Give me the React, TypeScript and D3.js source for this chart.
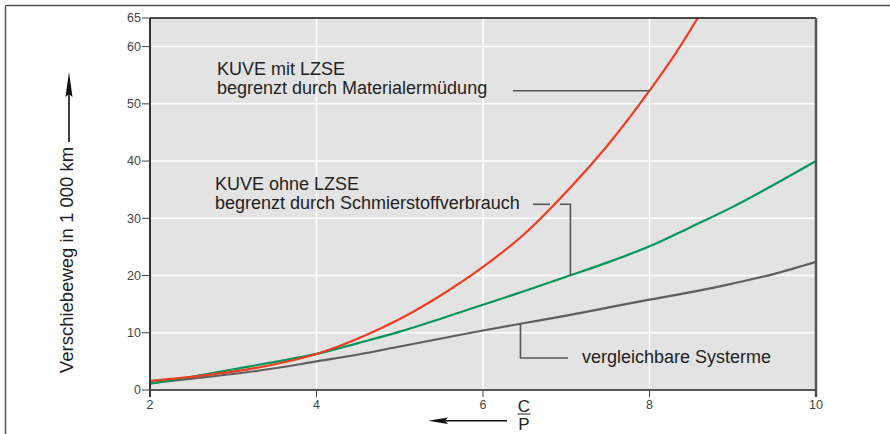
import React from "react";
import * as d3 from "d3";

const xVals = [2, 2.5, 3, 3.5, 4, 4.5, 5, 5.5, 6, 6.5, 7, 7.5, 8, 8.5, 9, 9.5, 10];
const redX = [2, 2.5, 3, 3.5, 4, 4.5, 5, 5.5, 6, 6.5, 7, 7.5, 8, 8.3, 8.6];
const redY = [1.6, 2.3, 3.2, 4.5, 6.3, 9.0, 12.4, 16.6, 21.5, 27.3, 34.6, 42.8, 52.3, 58.5, 65.5];
const greenY = [1.1, 2.3, 3.6, 4.9, 6.3, 8.2, 10.2, 12.5, 14.9, 17.3, 19.8, 22.3, 25.1, 28.5, 32.0, 35.9, 40.0];
const grayY = [1.2, 2.0, 2.8, 3.8, 5.0, 6.2, 7.6, 9.0, 10.4, 11.7, 13.0, 14.4, 15.8, 17.1, 18.6, 20.3, 22.4];
const yTicks = [0, 10, 20, 30, 40, 50, 60, 65];
const yGrid = [10, 20, 30, 40, 50, 60];
const xTicks = [2, 4, 6, 8, 10];
const xGrid = [4, 6, 8];

const W = 890, H = 434;
const L = 150, R = 816, T = 18, B = 390;

export default function App() {
  const x = d3.scaleLinear().domain([2, 10]).range([L, R]);
  const y = d3.scaleLinear().domain([0, 65]).range([B, T]);
  const line = d3.line<[number, number]>().x(d => x(d[0])).y(d => y(d[1])).curve(d3.curveMonotoneX);
  const red = line(redX.map((v, i) => [v, redY[i]]) as [number, number][]) || "";
  const green = line(xVals.map((v, i) => [v, greenY[i]]) as [number, number][]) || "";
  const gray = line(xVals.map((v, i) => [v, grayY[i]]) as [number, number][]) || "";
  const font = "'Liberation Sans', Arial, sans-serif";
  const txt = "#222";

  const redAnchor = [x(8), y(redY[redX.indexOf(8)])];
  const greenAnchorX = x(7.05);
  const greenAnchorY = y(19.95);
  const grayAnchorX = x(6.45);
  const grayAnchorY = y(11.6);

  return (
    <svg width={W} height={H} style={{ position: "absolute", left: 0, top: 0, background: "#fff" }} fontFamily={font}>
      <defs>
        <clipPath id="plot"><rect x={L} y={T} width={R - L} height={B - T} /></clipPath>
      </defs>
      <line x1={5.5} y1={5.5} x2={W} y2={5.5} stroke="#555" strokeWidth={1.5} />
      <line x1={5.5} y1={5.5} x2={5.5} y2={H} stroke="#555" strokeWidth={1.5} />

      <rect x={L} y={T} width={R - L} height={B - T} fill="#e3e3e3" />
      {yGrid.map(v => (
        <line key={"gy" + v} x1={L} x2={R} y1={y(v)} y2={y(v)} stroke="#fff" strokeWidth={1.5} />
      ))}
      {xGrid.map(v => (
        <line key={"gx" + v} x1={x(v)} x2={x(v)} y1={T} y2={B} stroke="#fff" strokeWidth={1.5} />
      ))}

      <g clipPath="url(#plot)" fill="none" strokeWidth={2.2} strokeLinejoin="round">
        <path d={gray} stroke="#5f5f5f" />
        <path d={green} stroke="#00965a" />
        <path d={red} stroke="#f03c22" />
      </g>

      <line x1={L} x2={R} y1={T} y2={T} stroke="#111" strokeWidth={1.5} />
      <line x1={R} x2={R} y1={T} y2={B + 7} stroke="#555" strokeWidth={2.5} />
      <line x1={L} x2={R} y1={B} y2={B} stroke="#555" strokeWidth={2} />
      <line x1={L} x2={L} y1={T} y2={B + 7} stroke="#333" strokeWidth={2} />

      {yTicks.map(v => (
        <g key={"yt" + v}>
          <line x1={L - 8} x2={L} y1={y(v)} y2={y(v)} stroke="#444" strokeWidth={1} />
          <text x={L - 9} y={y(v)} dy="0.35em" textAnchor="end" fontSize={12.5} fill="#444">{v}</text>
        </g>
      ))}
      {xTicks.map(v => (
        <g key={"xt" + v}>
          <line x1={x(v)} x2={x(v)} y1={B} y2={B + 7} stroke="#444" strokeWidth={1} />
          <text x={x(v)} y={B + 19} textAnchor="middle" fontSize={12.5} fill="#444">{v}</text>
        </g>
      ))}

      <text transform={`translate(73,260) rotate(-90)`} textAnchor="middle" fontSize={18.5} fill={txt}>Verschiebeweg in 1 000 km</text>
      <line x1={69} x2={69} y1={142} y2={92} stroke="#111" strokeWidth={1.6} />
      <path d="M69,72 L72.5,97 L69,94 L65.5,97 Z" fill="#111" />

      <text x={524} y={412} textAnchor="middle" fontSize={17} fill={txt}>C</text>
      <line x1={517.5} x2={530.5} y1={414} y2={414} stroke={txt} strokeWidth={1} />
      <text x={524} y={430} textAnchor="middle" fontSize={17} fill={txt}>P</text>
      <line x1={507} x2={445} y1={420.7} y2={420.7} stroke="#111" strokeWidth={1.6} />
      <path d="M428,420.7 L448,417.5 L445,420.7 L448,424 Z" fill="#111" />

      <text x={217} y={75} fontSize={18} fill={txt}>KUVE mit LZSE</text>
      <text x={217} y={93.5} fontSize={18} fill={txt}>begrenzt durch Materialermüdung</text>
      <line x1={513} x2={redAnchor[0]} y1={redAnchor[1]} y2={redAnchor[1]} stroke="#555" strokeWidth={1.6} />

      <text x={215} y={190} fontSize={18} fill={txt}>KUVE ohne LZSE</text>
      <text x={215} y={208.5} fontSize={18} fill={txt}>begrenzt durch Schmierstoffverbrauch</text>
      <line x1={533} x2={550} y1={204.3} y2={204.3} stroke="#555" strokeWidth={1.6} />
      <polyline points={`560,204.3 ${greenAnchorX},204.3 ${greenAnchorX},${greenAnchorY}`} fill="none" stroke="#555" strokeWidth={1.6} />

      <polyline points={`${grayAnchorX},${grayAnchorY} ${grayAnchorX},358 568,358`} fill="none" stroke="#555" strokeWidth={1.6} />
      <text x={582} y={363} fontSize={18} fill={txt}>vergleichbare Systerme</text>
    </svg>
  );
}
